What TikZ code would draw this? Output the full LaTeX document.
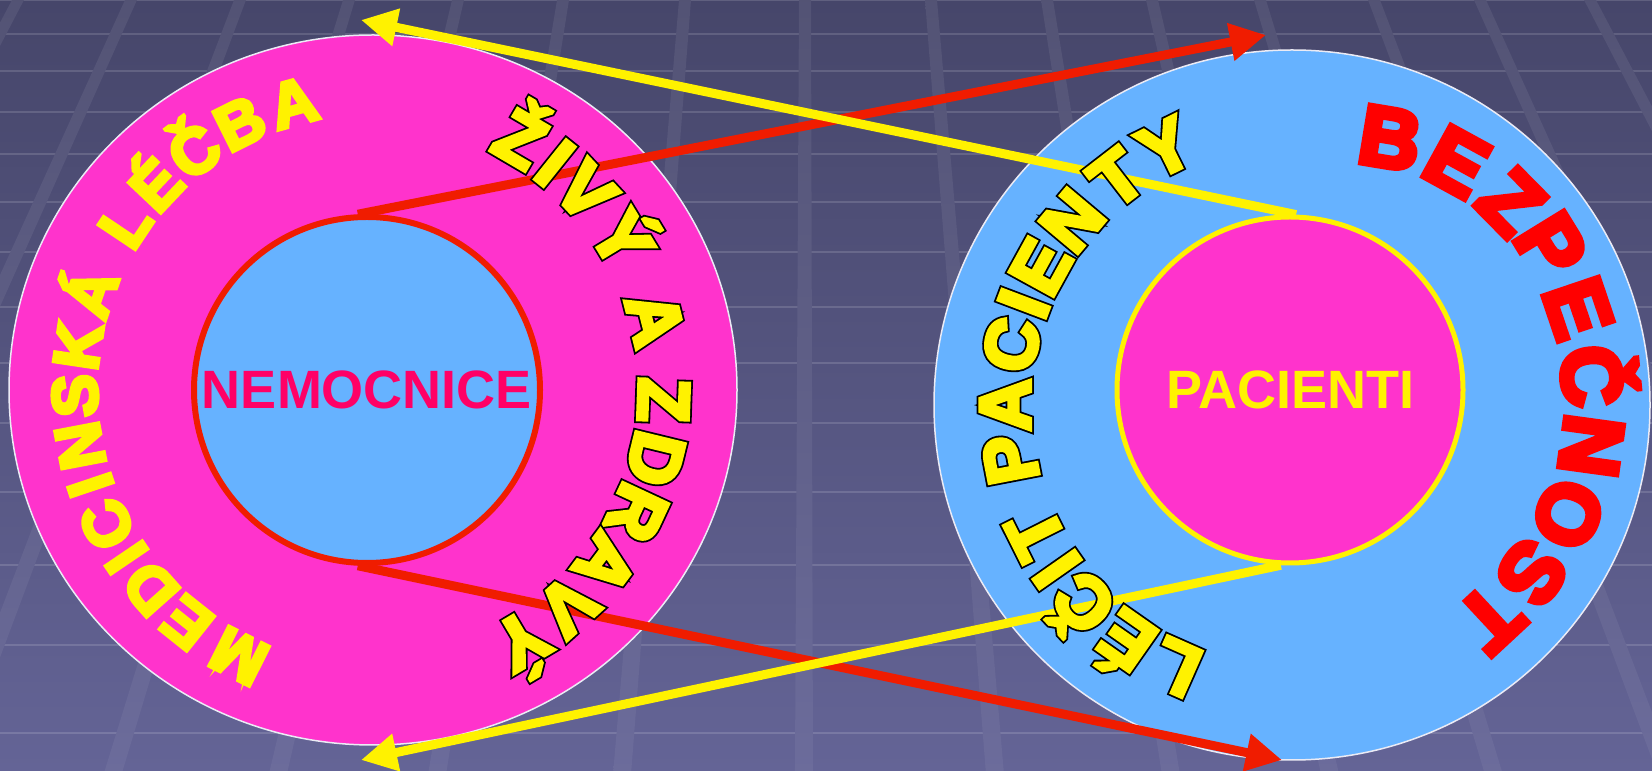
\documentclass[tikz,border=0pt]{standalone}
\usepackage{fontspec}
\setmainfont{Liberation Sans}
\newfontfamily\heavyfont[BoldFeatures={FakeBold=6}]{Liberation Sans}
\newfontfamily\bezfont[BoldFeatures={FakeBold=7}]{Liberation Sans}
\newfontfamily\rimfont[BoldFeatures={FakeBold=11}]{Liberation Sans}
\usetikzlibrary{arrows.meta}
\definecolor{bgtop}{RGB}{70,70,106}
\definecolor{bgbot}{RGB}{100,100,150}
\definecolor{pinkfill}{RGB}{255,51,204}
\definecolor{bluefill}{RGB}{102,178,255}
\definecolor{arrowred}{RGB}{240,28,0}
\definecolor{labelpink}{RGB}{255,0,102}
\definecolor{ringline}{RGB}{235,235,245}
\newcommand\rimmed[1]{\rlap{\rimfont\bfseries\color{black}#1}#1}
\begin{document}
\begin{tikzpicture}[x=1pt,y=1pt,
  stripe/.style={draw=white, draw opacity=0.14, line width=2.5pt},
  ringedge/.style={draw=ringline, line width=1.5pt},
  yarrow/.style={draw=yellow, line width=9pt, -{Triangle[length=36pt,width=36pt]}},
  rarrow/.style={draw=arrowred, line width=9pt, -{Triangle[length=36pt,width=36pt]}},
  midlabel/.style={font=\bfseries\fontsize{54}{54}\selectfont, inner sep=0pt},
  medtext/.style={font=\heavyfont\bfseries\fontsize{64}{64}\selectfont, text=yellow, inner sep=0pt, anchor=base},
  outltext/.style={font=\heavyfont\bfseries\fontsize{72}{72}\selectfont, text=yellow, inner sep=0pt, anchor=base},
  beztext/.style={font=\bezfont\bfseries\fontsize{84}{84}\selectfont, text=red, inner sep=0pt, anchor=base}
]
\useasboundingbox (0,0) rectangle (1652,771);
\begin{scope}
\clip (0,0) rectangle (1652,771);
% background
\shade[top color=bgtop, bottom color=bgbot] (0,0) rectangle (1652,771);
\foreach \yy in {0,34,71,112,154,202,252,307,363,423,492,565,645,733}
  \draw[stripe] (0,771-\yy) -- (1652,771-\yy);
\foreach \xo in {18,131,240,349,458,563,685,805,931,1047,1152,1260,1374,1480,1590} {
  \pgfmathsetmacro\xb{807+(\xo-807)*1.514}
  \shade[top color=bgtop!93!white, bottom color=bgbot!95!white]
    (\xo-6,771) -- (\xo+6,771) -- (\xb+9,0) -- (\xb-9,0) -- cycle;
}
\end{scope}
% outer rings
\fill[pinkfill] (373,381) ellipse [x radius=364, y radius=355];
\draw[ringedge] (373,381) ellipse [x radius=364, y radius=355];
\fill[bluefill] (1292,366) ellipse [x radius=358, y radius=355];
\draw[ringedge] (1292,366) ellipse [x radius=358, y radius=355];
% inner circles
\node[circle, minimum size=346pt, inner sep=0pt, fill=bluefill, draw=arrowred, line width=6pt] (nem) at (367,381) {};
\node[circle, minimum size=346pt, inner sep=0pt, fill=pinkfill, draw=yellow, line width=5pt] (pac) at (1290,381) {};
% connectors
\coordinate (ytop) at (361,751);
\coordinate (rtop) at (1266,736);
\coordinate (rbot) at (1282,11);
\coordinate (ybot) at (361,11);
\draw[rarrow] (nem.93) -- (rtop);
\draw[rarrow] (nem.267) -- (rbot);
\draw[yarrow] (pac.88) -- (ytop);
\draw[yarrow] (pac.267) -- (ybot);
% centre labels
\node[midlabel, text=labelpink] (nemlabel) at (nem.center) {NEMOCNICE};
\node[midlabel, text=yellow] (paclabel) at (pac.center) {PACIENTI};
% arc texts
\foreach \ch/\ang [count=\i] in {M/243.3, E/231.4, D/221.7, I/214.2, C/206.8, I/198.6, N/190.8, S/181.1, K/171.5, Á/161, L/146.2, É/136.6, Č/126.8, B/116.5, A/105.5}
  \node[medtext, rotate=\ang-90] (med\i) at ({373+276*cos(\ang)},{381+276*sin(\ang)}) {\ch};
\foreach \ch/\ang [count=\i] in {Ž/59.6, I/51.3, V/43, Ý/31.2, A/14.1, Z/-2, D/-13.7, R/-25, A/-36.8, V/-47.9, Ý/-59.3}
  \node[outltext, rotate=\ang-90] (ziv\i) at ({373+266*cos(\ang)},{381+266*sin(\ang)}) {\rimmed{\ch}};
\foreach \ch/\ang [count=\i] in {L/246.1, É/235, Č/223.6, I/215, T/206.7, P/190.9, A/180, C/167.9, I/159.3, E/151.2, N/140, T/127.7, Y/116.2}
  \node[outltext, rotate=\ang-90] (lec\i) at ({1292+262*cos(\ang)},{366+262*sin(\ang)}) {\rimmed{\ch}};
\foreach \ch/\ang/\tw/\rr [count=\i] in {B/68.6/12/256, E/55.3/6/265, Z/42.6/2/270, P/31.6/0/275, E/18.7/0/273, Č/5.5/0/272, N/-7.8/0/273, O/-21.6/0/268, S/-35/0/264, T/-47.1/0/262}
  \node[beztext, rotate=\ang-90+\tw] (bez\i) at ({1292+\rr*cos(\ang)},{366+\rr*sin(\ang)}) {\ch};
\end{tikzpicture}
\end{document}
